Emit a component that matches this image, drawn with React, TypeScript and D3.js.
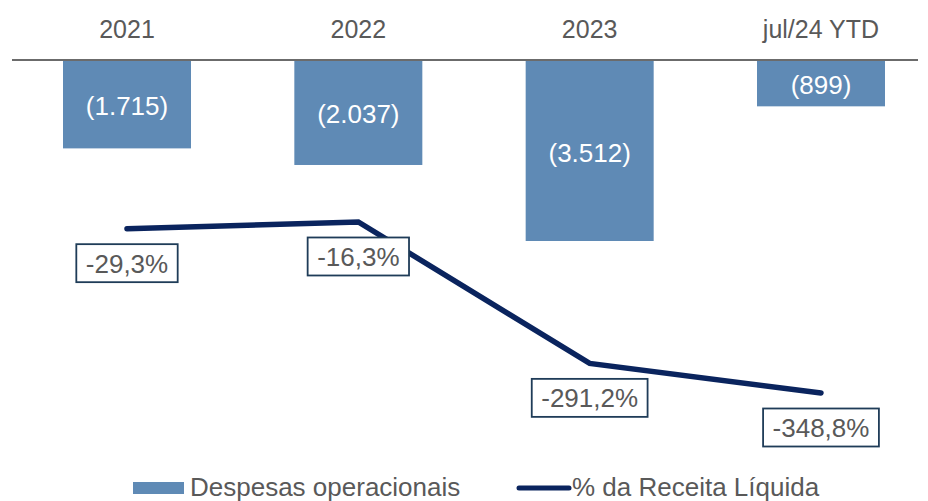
import React from "react";
import * as d3 from "d3";

const categories = ["2021", "2022", "2023", "jul/24 YTD"];
const despesas = [1715, 2037, 3512, 899];
const despesasLabels = ["(1.715)", "(2.037)", "(3.512)", "(899)"];
const receitaPct = [-29.3, -16.3, -291.2, -348.8];
const receitaLabels = ["-29,3%", "-16,3%", "-291,2%", "-348,8%"];

const W = 928;
const H = 501;
const FONT = "'Liberation Sans', Arial, Helvetica, sans-serif";
const BAR = "#5f8ab5";
const LINE = "#0a245e";
const TEXT = "#595959";
const BOX = "#1f3c58";

function textWidth(s: string, size: number) {
  const w: Record<string, number> = {
    "-": 0.333, ",": 0.278, "%": 0.889, ".": 0.278, "(": 0.333, ")": 0.333,
  };
  let t = 0;
  for (const c of s) t += w[c] ?? 0.556;
  return t * size;
}

export default function App() {
  const x = d3.scalePoint<string>().domain(categories).range([127, 821]);
  const bw = 128;
  const yBar = d3.scaleLinear().domain([0, 3512]).range([60, 241]);
  const yLine = d3.scaleLinear().domain([0, -348.8]).range([213.6, 393]);
  const line = d3
    .line<number>()
    .x((_, i) => x(categories[i])!)
    .y((d) => yLine(d));
  const fs = 25;

  return (
    <svg width={W} height={H} style={{ position: "absolute", left: 0, top: 0, fontFamily: FONT }}>
      <rect width={W} height={H} fill="#fff" />
      {categories.map((c) => (
        <text key={c} x={x(c)} y={38} textAnchor="middle" fontSize={fs} fill={TEXT}>
          {c}
        </text>
      ))}
      {despesas.map((v, i) => (
        <g key={i}>
          <rect x={x(categories[i])! - bw / 2} y={yBar(0)} width={bw} height={yBar(v) - yBar(0)} fill={BAR} />
          <text
            x={x(categories[i])}
            y={(yBar(0) + yBar(v)) / 2 + 11}
            textAnchor="middle"
            fontSize={26}
            fill="#fff"
          >
            {despesasLabels[i]}
          </text>
        </g>
      ))}
      <line x1={12} x2={918} y1={60} y2={60} stroke="#6b6b6b" strokeWidth={2} />
      <path d={line(receitaPct)!} fill="none" stroke={LINE} strokeWidth={5.5} strokeLinecap="round" strokeLinejoin="miter" />
      {receitaPct.map((v, i) => {
        const cx = x(categories[i])!;
        const cy = yLine(v) + 34.5;
        const tw = textWidth(receitaLabels[i], 26) + 19;
        return (
          <g key={i}>
            <rect x={cx - tw / 2} y={cy - 19} width={tw} height={38} fill="#fff" stroke={BOX} strokeWidth={1.8} />
            <text x={cx} y={cy + 9.5} textAnchor="middle" fontSize={26} fill={TEXT}>
              {receitaLabels[i]}
            </text>
          </g>
        );
      })}
      <rect x={133} y={482} width={51} height={12} fill={BAR} />
      <text x={190} y={495.5} fontSize={26} fill={TEXT}>Despesas operacionais</text>
      <line x1={519} x2={569} y1={488} y2={488} stroke={LINE} strokeWidth={5} strokeLinecap="round" />
      <text x={572} y={495.5} fontSize={26} fill={TEXT}>% da Receita Líquida</text>
    </svg>
  );
}
